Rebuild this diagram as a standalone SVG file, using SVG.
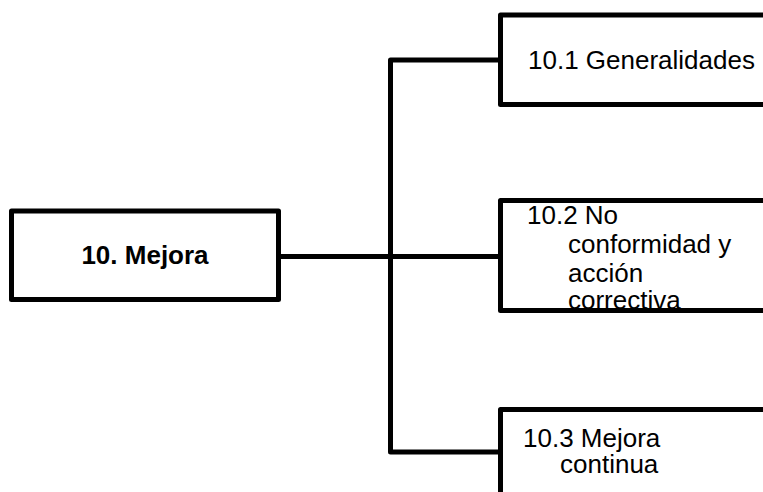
<svg xmlns="http://www.w3.org/2000/svg" width="763" height="492" viewBox="0 0 763 492">
<style>
.box{fill:#fff;stroke:#000;stroke-width:5;stroke-linejoin:round}
.ln{fill:none;stroke:#000;stroke-width:5;stroke-linejoin:round}
.t{font-family:"Liberation Sans",Arial,sans-serif;font-size:26px;fill:#000}
.b{font-weight:bold}
</style>
<rect width="763" height="492" fill="#fff"/>
<g id="connectors">
<path class="ln" d="M278.5 256.5 H500.5"/>
<path class="ln" d="M500.5 60 H390.5 V452 H500.5"/>
</g>
<g id="n0">
<rect class="box" x="11.5" y="211" width="267" height="88.5"/>
<text class="t b" x="145" y="264" text-anchor="middle">10. Mejora</text>
</g>
<g id="n1">
<rect class="box" x="500.5" y="15" width="320" height="89.5"/>
<text class="t" x="528" y="69">10.1 Generalidades</text>
</g>
<g id="n2">
<rect class="box" x="500.5" y="200.5" width="320" height="110"/>
<text class="t"><tspan x="527" y="224">10.2 No</tspan><tspan x="568" y="253">conformidad y</tspan><tspan x="568" y="281.5">acción</tspan><tspan x="568" y="308.5">correctiva</tspan></text>
</g>
<g id="n3">
<rect class="box" x="500.5" y="409.5" width="320" height="120"/>
<text class="t"><tspan x="523" y="446.5">10.3 Mejora</tspan><tspan x="560" y="473">continua</tspan></text>
</g>
</svg>
